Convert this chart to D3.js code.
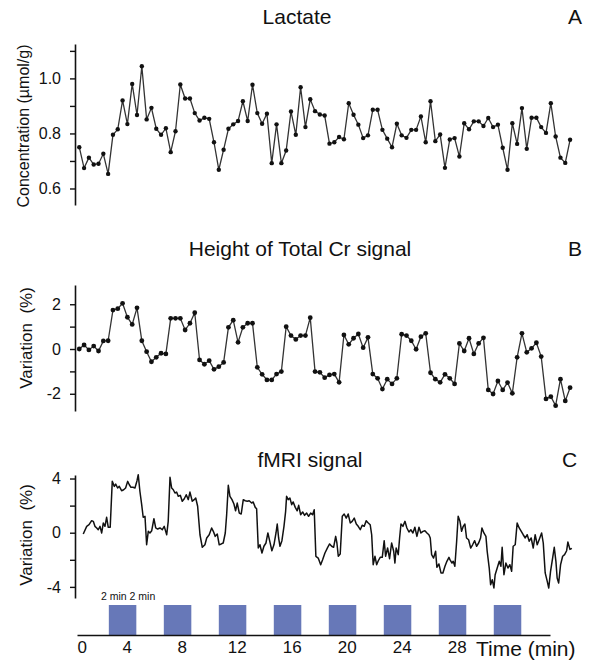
<!DOCTYPE html>
<html>
<head>
<meta charset="utf-8">
<script src="https://cdn.jsdelivr.net/npm/d3@7"></script>
<style>
  body { margin: 0; background: #fff; }
  svg text { font-family: "Liberation Sans", Arial, sans-serif; fill: #111; }
</style>
</head>
<body>
<div id="chart"></div>
<script>
// sampling of the MRS series (min)
const mrsStart = 0.55;
const mrsStep = 0.35;

const lactate = [0.750, 0.674, 0.712, 0.687, 0.690, 0.726, 0.653, 0.795, 0.815, 0.920,
  0.834, 0.980, 0.867, 1.044, 0.851, 0.893, 0.817, 0.795, 0.819, 0.732,
  0.808, 0.978, 0.927, 0.927, 0.874, 0.847, 0.857, 0.853, 0.768, 0.668,
  0.741, 0.817, 0.833, 0.845, 0.917, 0.845, 0.977, 0.874, 0.835, 0.872,
  0.692, 0.833, 0.692, 0.738, 0.880, 0.795, 0.968, 0.823, 0.924, 0.881,
  0.869, 0.865, 0.763, 0.768, 0.787, 0.779, 0.910, 0.868, 0.832, 0.783,
  0.793, 0.886, 0.886, 0.813, 0.781, 0.750, 0.835, 0.793, 0.784, 0.813,
  0.813, 0.862, 0.768, 0.917, 0.772, 0.796, 0.675, 0.778, 0.783, 0.716,
  0.837, 0.815, 0.844, 0.844, 0.827, 0.856, 0.823, 0.832, 0.748, 0.668,
  0.837, 0.762, 0.892, 0.744, 0.857, 0.857, 0.823, 0.802, 0.910, 0.789,
  0.712, 0.693, 0.777];

const totalCr = [0, 0.18, -0.04, 0.13, -0.09, 0.36, 0.37, 1.74, 1.80, 2.04,
  1.42, 1.10, 1.84, 0.37, -0.12, -0.57, -0.37, -0.19, -0.22, 1.37,
  1.37, 1.37, 0.85, 1.15, 1.62, -0.49, -0.68, -0.52, -0.91, -0.79,
  -0.60, 0.97, 1.29, 0.30, 0.97, 1.15, 1.15, -0.82, -1.13, -1.38,
  -1.38, -1.12, -1.01, 1.00, 0.60, 0.43, 0.60, 0.60, 1.40, -1.01,
  -1.04, -1.28, -1.16, -1.12, -1.49, 0.63, 0.21, 0.48, 0.67, 0.06,
  0.52, -1.12, -1.31, -1.79, -1.35, -1.56, -1.31, 0.66, 0.60, 0.37,
  -0.01, 0.55, 0.70, -1.06, -1.35, -1.49, -1.13, -1.31, -1.56, 0.25,
  -0.09, 0.48, -0.22, 0.25, 0.50, -1.83, -2.01, -1.43, -1.83, -1.50,
  -1.98, -0.37, 0.70, -0.15, 0.03, 0.28, -0.34, -2.23, -2.13, -2.53,
  -1.35, -2.32, -1.73];

const fmriTime = [0.84, 1.09, 1.26, 1.45, 1.57, 1.69, 1.82, 1.93, 2.06, 2.18,
  2.30, 2.42, 2.54, 2.66, 2.80, 2.95, 3.10, 3.20, 3.34, 3.46,
  3.63, 3.78, 3.92, 4.07, 4.19, 4.31, 4.46, 4.60, 4.75, 4.84,
  4.96, 5.09, 5.20, 5.33, 5.45, 5.57, 5.69, 5.82, 5.98, 6.11,
  6.25, 6.42, 6.59, 6.73, 6.91, 7.02, 7.15, 7.27, 7.39, 7.51,
  7.63, 7.75, 7.90, 8.04, 8.19, 8.33, 8.48, 8.60, 8.77, 8.91,
  9.02, 9.16, 9.33, 9.50,
  9.69, 9.82, 10.00, 10.18, 10.30, 10.44, 10.59, 10.73, 10.88, 11.02,
  11.17, 11.27, 11.39, 11.51, 11.66, 11.80, 11.92, 12.04, 12.19, 12.33,
  12.48, 12.62, 12.77, 12.91, 13.09, 13.20, 13.35, 13.45, 13.57, 13.69,
  13.84, 13.98, 14.13, 14.27, 14.42, 14.56, 14.71, 14.86, 14.95, 15.05,
  15.15, 15.29, 15.44, 15.56, 15.63, 15.75, 15.87, 16.00, 16.11, 16.26,
  16.40, 16.51, 16.65, 16.80, 16.94, 17.09, 17.23, 17.38, 17.52, 17.64,
  17.76, 17.93, 18.11, 18.25,
  18.42, 18.62, 18.76, 18.91, 19.05, 19.20, 19.29, 19.39, 19.53, 19.68,
  19.82, 19.97, 20.11, 20.26, 20.40, 20.55, 20.70, 20.84, 20.99, 21.13,
  21.28, 21.42, 21.57, 21.71, 21.82, 21.93, 22.06, 22.18, 22.30, 22.44,
  22.59, 22.73, 22.83, 22.98, 23.12, 23.27, 23.42, 23.51, 23.60, 23.75,
  23.85, 23.95, 24.09, 24.24, 24.38, 24.53, 24.67, 24.82, 24.96, 25.11,
  25.26, 25.40, 25.55, 25.69, 25.84, 25.98, 26.08, 26.18, 26.32, 26.47,
  26.56, 26.71, 26.86, 27.00, 27.15, 27.29, 27.44,
  27.51, 27.66, 27.75, 27.87, 28.00, 28.11, 28.24, 28.36, 28.48, 28.60,
  28.72, 28.87, 29.02, 29.16, 29.31, 29.45, 29.60, 29.74, 29.84, 29.98,
  30.13, 30.22, 30.37, 30.47, 30.59, 30.71, 30.80, 30.95, 31.10, 31.22,
  31.31, 31.44, 31.58, 31.73, 31.87, 32.00, 32.11, 32.26, 32.40, 32.55,
  32.70, 32.84, 32.99, 33.13, 33.28, 33.42, 33.57, 33.71, 33.86, 34.00,
  34.18, 34.30, 34.44, 34.59, 34.70, 34.83, 34.98, 35.10, 35.22, 35.31,
  35.42, 35.56, 35.71, 35.85, 36.00, 36.09, 36.24, 36.38];

const fmriValue = [-0.10, 0.47, 0.59, 0.89, 0.84, 0.47, 0.35, 0.22, 0.47, -0.02,
  0.72, 0.47, 1.14, 0.40, 0.40, 3.79, 3.42, 3.59, 3.30, 3.42,
  3.10, 3.17, 3.30, 3.79, 3.54, 3.35, 3.35, 3.30, 3.84, 4.28,
  3.06, 2.07, 1.14, 1.21, -0.89, 0.10, -0.02, 0.15, 1.03, 0.35,
  0.27, 0.35, 0.22, 0.47, -0.15, 0.84, 4.09, 3.30, 3.17, 2.93,
  3.00, 2.69, 2.76, 2.32, 2.51, 2.80, 2.44, 3.00, 2.32, 2.44,
  2.56, 1.95, -0.15, -1.08,
  -0.89, -0.39, -0.15, 0.35, 0.10, -0.27, -0.10, -0.89, -0.83, -0.76,
  -0.02, 1.33, 3.50, 2.69, 2.44, 2.12, 1.62, 2.19, 1.45, 1.38,
  2.44, 2.36, 2.32, 2.36, 2.19, 2.27, 1.87, 1.77, -1.13, -0.89,
  -1.50, -1.00, -0.76, -0.02, -0.69, -1.33, -0.89, -0.02, 0.64, -0.39,
  -1.00, -0.59, 0.47, 1.58, 2.69, 2.44, 2.56, 2.07, 2.27, 1.87,
  1.62, 2.02, 1.33, 1.53, 1.28, 1.45, 1.21, 1.45, 1.33, 1.70,
  -1.74, -1.87, -2.36, -1.99,
  -1.50, -1.08, -0.83, -1.00, -1.08, -0.27, -0.76, -1.74, -1.57, 1.21,
  1.38, 1.08, 1.38, 0.72, 0.84, 1.08, 0.64, 0.47, 0.22, 0.55,
  0.47, 0.89, 0.72, 0.59, -0.15, -2.36, -1.74, -2.36, -2.07, -1.82,
  -1.82, -0.59, -1.74, -1.13, -1.92, -0.76, -1.37, -2.24, -1.13, -1.62,
  -0.39, 0.64, 0.47, 0.84, 0.35, 0.05, 0.22, -0.02, 0.40, -0.27,
  0.40, -0.02, 0.10, 0.15, -0.02, -0.15, -0.39, -1.62, -1.87, -1.37,
  -2.55, -2.31, -2.97, -2.97, -2.48, -2.11, -1.82,
  -1.99, -2.24, -2.11, -2.48, -0.63, 1.21, 0.84, 0.10, 0.47, 0.64,
  -0.39, -0.52, -1.13, -0.89, -0.59, -1.00, -0.76, -0.39, 0.35, -0.02,
  -0.27, -1.37, -2.61, -3.84, -3.47, -4.08, -3.10, -2.61, -2.11, -2.48,
  -1.08, -3.10, -2.24, -2.61, -2.36, -2.85, -1.00, -0.89, 0.72, 0.35,
  0.10, -0.15, -0.39, -0.15, -0.63, -0.39, -1.13, -0.15, -0.89, -0.52,
  -0.02, -0.76, -2.97, -3.59, -4.08, -2.85, -1.87, -1.08, -2.11, -3.34,
  -3.71, -2.36, -1.74, -1.62, -1.33, -0.69, -1.23, -1.15];

// stimulation blocks: 2 min on, 2 min off
const stimStart = [2.7, 6.7, 10.7, 14.7, 18.7, 22.7, 26.7, 30.7];
const stimLength = 2;
const timeTicks = [0, 4, 8, 12, 16, 20, 24, 28];

const width = 616;
const height = 660;

const svg = d3.select("#chart")
    .append("svg")
    .attr("width", width)
    .attr("height", height);

const x = d3.scaleLinear().domain([0.385, 34.79]).range([77, 550]);

const mrsTime = (d, i) => mrsStart + i * mrsStep;

// one panel: y axis + title + line
function panel(opts) {
    const y = d3.scaleLinear().domain(opts.domain).range(opts.range);

    const axis = d3.axisLeft(y)
        .tickValues(opts.ticks)
        .tickSize(5)
        .tickSizeOuter(0)
        .tickPadding(9)
        .tickFormat(d => opts.labels.includes(d) ? opts.fmt(d) : "");

    const g = svg.append("g")
        .attr("transform", "translate(75,0)")
        .call(axis);
    g.select(".domain").attr("stroke", "#111").attr("stroke-width", 1.6);
    g.selectAll(".tick line").attr("stroke", "#111").attr("stroke-width", 1.4);
    g.selectAll(".tick text")
        .style("font-size", "16px")
        .style("font-family", "Liberation Sans, Arial, sans-serif");

    svg.append("text")
        .attr("x", opts.titleX)
        .attr("y", opts.titleY)
        .attr("text-anchor", "middle")
        .style("font-size", "21px")
        .text(opts.title);

    svg.append("text")
        .attr("x", opts.letterX)
        .attr("y", opts.titleY)
        .style("font-size", "21px")
        .text(opts.letter);

    svg.append("text")
        .attr("transform", `translate(${opts.labelX},${opts.labelY}) rotate(-90)`)
        .attr("text-anchor", "middle")
        .style("font-size", opts.labelSize)
        .style("white-space", "pre")
        .text(opts.ylabel);

    return y;
}

// A: lactate
const yA = panel({
    domain: [0.54, 1.125], range: [205, 44],
    ticks: [0.6, 0.7, 0.8, 0.9, 1.0, 1.1], labels: [0.6, 0.8, 1.0],
    fmt: d3.format(".1f"),
    title: "Lactate", titleX: 297, titleY: 24, letter: "A", letterX: 568,
    ylabel: "Concentration (\u00b5mol/g)", labelX: 29, labelY: 126, labelSize: "16px"
});

const lineA = d3.line()
    .x((d, i) => x(mrsTime(d, i)))
    .y(d => yA(d));

svg.append("path")
    .datum(lactate)
    .attr("fill", "none")
    .attr("stroke", "#333")
    .attr("stroke-width", 1.3)
    .attr("d", lineA);

svg.append("g")
    .selectAll("circle")
    .data(lactate)
    .join("circle")
    .attr("cx", (d, i) => x(mrsTime(d, i)))
    .attr("cy", d => yA(d))
    .attr("r", 2.2)
    .attr("fill", "#111");

// B: total Cr
const yB = panel({
    domain: [-2.77, 2.86], range: [411, 285],
    ticks: [-2, -1, 0, 1, 2], labels: [-2, 0, 2],
    fmt: d => d,
    title: "Height of Total Cr signal", titleX: 300, titleY: 256, letter: "B", letterX: 568,
    ylabel: "Variation  (%)", labelX: 32, labelY: 338, labelSize: "17px"
});

const lineB = d3.line()
    .x((d, i) => x(mrsTime(d, i)))
    .y(d => yB(d));

svg.append("path")
    .datum(totalCr)
    .attr("fill", "none")
    .attr("stroke", "#333")
    .attr("stroke-width", 1.3)
    .attr("d", lineB);

svg.append("g")
    .selectAll("circle")
    .data(totalCr)
    .join("circle")
    .attr("cx", (d, i) => x(mrsTime(d, i)))
    .attr("cy", d => yB(d))
    .attr("r", 2.4)
    .attr("fill", "#111");

// C: fMRI
const yC = panel({
    domain: [-4.82, 4.26], range: [598, 475],
    ticks: [-4, -2, 0, 2, 4], labels: [-4, 0, 4],
    fmt: d => d,
    title: "fMRI signal", titleX: 310, titleY: 467, letter: "C", letterX: 562,
    ylabel: "Variation  (%)", labelX: 32, labelY: 535, labelSize: "17px"
});

const lineC = d3.line()
    .x((d, i) => x(fmriTime[i]))
    .y(d => yC(d));

svg.append("path")
    .datum(fmriValue)
    .attr("fill", "none")
    .attr("stroke", "#111")
    .attr("stroke-width", 1.5)
    .attr("stroke-linejoin", "round")
    .attr("d", lineC);

// stimulation bars + time axis
svg.append("g")
    .selectAll("rect")
    .data(stimStart)
    .join("rect")
    .attr("x", d => x(d))
    .attr("width", d => x(d + stimLength) - x(d))
    .attr("y", 605)
    .attr("height", 30)
    .attr("fill", "#6778b8");

svg.append("text")
    .attr("x", 101)
    .attr("y", 600)
    .style("font-size", "10.5px")
    .text("2 min 2 min");

const xAxis = d3.axisBottom(x)
    .tickValues(timeTicks)
    .tickSize(0)
    .tickSizeOuter(0)
    .tickPadding(6);

const gx = svg.append("g")
    .attr("transform", "translate(0,635)")
    .call(xAxis);
gx.select(".domain").attr("stroke", "#111").attr("stroke-width", 1.6);
gx.selectAll(".tick text")
    .style("font-size", "17px")
    .style("font-family", "Liberation Sans, Arial, sans-serif");
// the "0" sits just inside the axis start in the original
gx.selectAll(".tick")
    .filter(d => d === 0)
    .select("text")
    .attr("dx", 10);

svg.append("text")
    .attr("x", 476)
    .attr("y", 656)
    .style("font-size", "21px")
    .text("Time (min)");
</script>
</body>
</html>
